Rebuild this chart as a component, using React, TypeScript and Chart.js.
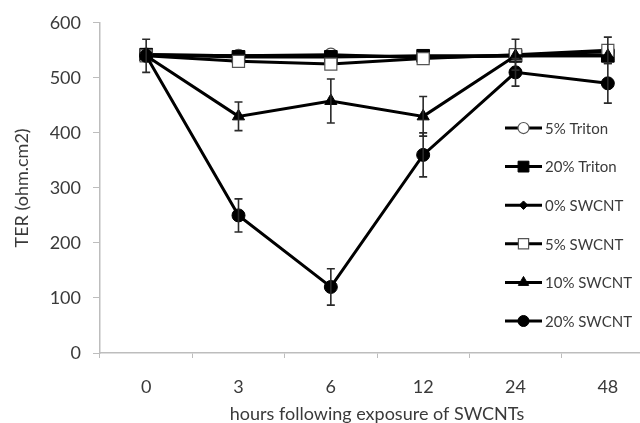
import React, { useEffect, useRef } from "react";
import { Chart, registerables } from "chart.js";

Chart.register(...registerables);

const hours = ["0", "3", "6", "12", "24", "48"];
const yTicks = [0, 100, 200, 300, 400, 500, 600];

const triton5 = [542, 540, 542, 537, 540, 548];
const triton20 = [542, 538, 538, 540, 540, 540];
const swcnt0 = [542, 540, 540, 538, 540, 542];
const swcnt5 = [540, 530, 525, 535, 542, 550];
const swcnt10 = [540, 430, 458, 430, 540, 540];
const swcnt20 = [540, 250, 120, 360, 510, 490];

const errTriton5 = [0, 0, 0, 0, 0, 0];
const errTriton20 = [0, 0, 0, 0, 0, 0];
const errSwcnt0 = [0, 0, 0, 0, 0, 0];
const errSwcnt5 = [30, 0, 0, 0, 28, 24];
const errSwcnt10 = [0, 26, 40, 36, 0, 0];
const errSwcnt20 = [0, 30, 33, 40, 25, 36];

const seriesNames = ["5% Triton", "20% Triton", "0% SWCNT", "5% SWCNT", "10% SWCNT", "20% SWCNT"];

const FONT = "Lato, 'Noto Sans', sans-serif";
const TEXT = "#3a3a3a";
const AXIS = "#bdbdbd";

function drawMarker(ctx: CanvasRenderingContext2D, style: string, x: number, y: number, r: number, fill: string, stroke: string, bw: number) {
  ctx.save();
  ctx.beginPath();
  if (style === "circle") {
    ctx.arc(x, y, r, 0, Math.PI * 2);
  } else if (style === "rect") {
    const s = r * Math.SQRT1_2;
    ctx.rect(x - s, y - s, 2 * s, 2 * s);
  } else if (style === "rectRot") {
    ctx.moveTo(x, y - r);
    ctx.lineTo(x + r, y);
    ctx.lineTo(x, y + r);
    ctx.lineTo(x - r, y);
    ctx.closePath();
  } else if (style === "triangle") {
    ctx.moveTo(x, y - r);
    ctx.lineTo(x + r * 0.87, y + r * 0.5);
    ctx.lineTo(x - r * 0.87, y + r * 0.5);
    ctx.closePath();
  }
  ctx.fillStyle = fill;
  ctx.fill();
  ctx.lineWidth = bw;
  ctx.strokeStyle = stroke;
  ctx.stroke();
  ctx.restore();
}

const errorBarPlugin = {
  id: "errorBars",
  afterDatasetsDraw(chart: any) {
    const ctx = chart.ctx as CanvasRenderingContext2D;
    const yScale = chart.scales.y;
    chart.data.datasets.forEach((ds: any, i: number) => {
      const errs: number[] = ds.errors || [];
      const meta = chart.getDatasetMeta(i);
      meta.data.forEach((pt: any, j: number) => {
        const e = errs[j];
        if (!e) return;
        const v = ds.data[j];
        const yTop = yScale.getPixelForValue(v + e);
        const yBot = yScale.getPixelForValue(v - e);
        const x = pt.x;
        ctx.save();
        ctx.strokeStyle = "#2a2a2a";
        ctx.lineWidth = 1.6;
        ctx.beginPath();
        ctx.moveTo(x, yTop);
        ctx.lineTo(x, yBot);
        ctx.moveTo(x - 4, yTop);
        ctx.lineTo(x + 4, yTop);
        ctx.moveTo(x - 4, yBot);
        ctx.lineTo(x + 4, yBot);
        ctx.stroke();
        ctx.restore();
      });
    });
  },
};

const legendPlugin = {
  id: "customLegend",
  afterDraw(chart: any) {
    const ctx = chart.ctx as CanvasRenderingContext2D;
    const x0 = 505;
    const x1 = 542;
    const yStart = 128;
    const step = 38.6;
    chart.data.datasets.forEach((ds: any, i: number) => {
      const y = yStart + i * step;
      ctx.save();
      ctx.strokeStyle = "#000";
      ctx.lineWidth = 3;
      ctx.beginPath();
      ctx.moveTo(x0, y);
      ctx.lineTo(x1, y);
      ctx.stroke();
      ctx.restore();
      drawMarker(ctx, ds.pointStyle, (x0 + x1) / 2, y, ds.pointRadius * 0.85, ds.pointBackgroundColor, ds.pointBorderColor, ds.pointBorderWidth);
      ctx.save();
      ctx.fillStyle = TEXT;
      ctx.font = `15px ${FONT}`;
      ctx.textAlign = "left";
      ctx.textBaseline = "middle";
      ctx.fillText(ds.label, x1 + 3, y + 1);
      ctx.restore();
    });
  },
};

export default function App() {
  const ref = useRef<HTMLCanvasElement>(null);

  useEffect(() => {
    if (!ref.current) return;
    const mk = (idx: number, data: number[], errors: number[], style: string, r: number, fill: string, border: string, bw: number) => ({
      label: seriesNames[idx],
      data,
      errors,
      order: -idx,
      borderColor: "#000",
      borderWidth: 3,
      pointStyle: style,
      pointRadius: r,
      pointBackgroundColor: fill,
      pointBorderColor: border,
      pointBorderWidth: bw,
      tension: 0,
      fill: false,
    });
    const chart = new Chart(ref.current, {
      type: "line",
      data: {
        labels: hours,
        datasets: [
          mk(0, triton5, errTriton5, "circle", 6.5, "#fff", "#555", 1.2),
          mk(1, triton20, errTriton20, "rect", 9, "#000", "#000", 1),
          mk(2, swcnt0, errSwcnt0, "rectRot", 5, "#000", "#000", 1),
          mk(3, swcnt5, errSwcnt5, "rect", 8.5, "#fff", "#555", 1.2),
          mk(4, swcnt10, errSwcnt10, "triangle", 7, "#000", "#000", 1),
          mk(5, swcnt20, errSwcnt20, "circle", 6.5, "#000", "#000", 1),
        ] as any,
      },
      options: {
        responsive: false,
        animation: false,
        layout: { padding: { top: 19, right: 3, left: 0, bottom: 0 } },
        plugins: {
          legend: { display: false },
          tooltip: { enabled: false },
        },
        scales: {
          x: {
            type: "category",
            offset: true,
            grid: {
              display: true,
              offset: true,
              drawOnChartArea: false,
              drawTicks: true,
              tickLength: 5,
              color: AXIS,
            },
            border: { color: AXIS, width: 1.5 },
            ticks: { color: TEXT, font: { family: FONT, size: 18 }, padding: 18 },
            title: {
              display: true,
              text: "hours following exposure of SWCNTs",
              color: TEXT,
              font: { family: FONT, size: 18 },
              padding: { top: 0, bottom: 5 },
            },
            afterFit: (s: any) => {
              s.height = 77;
            },
          },
          y: {
            min: 0,
            max: 600,
            afterBuildTicks: (s: any) => {
              s.ticks = yTicks.map((v) => ({ value: v }));
            },
            grid: {
              display: true,
              drawOnChartArea: false,
              drawTicks: true,
              tickLength: 7,
              color: AXIS,
            },
            border: { color: AXIS, width: 1.5 },
            ticks: { color: TEXT, font: { family: FONT, size: 18 }, padding: 12 },
            title: {
              display: true,
              text: "TER (ohm.cm2)",
              color: TEXT,
              font: { family: FONT, size: 18 },
              padding: { top: 11, bottom: 0 },
            },
            afterFit: (s: any) => {
              s.width = 100;
            },
          },
        },
      },
      plugins: [errorBarPlugin, legendPlugin],
    });
    return () => chart.destroy();
  }, []);

  return (
    <div style={{ position: "absolute", left: 0, top: 0, width: 640, height: 423, overflow: "hidden", background: "#fff" }}>
      <canvas ref={ref} width={664} height={430} style={{ width: 664, height: 430, display: "block" }} />
    </div>
  );
}
